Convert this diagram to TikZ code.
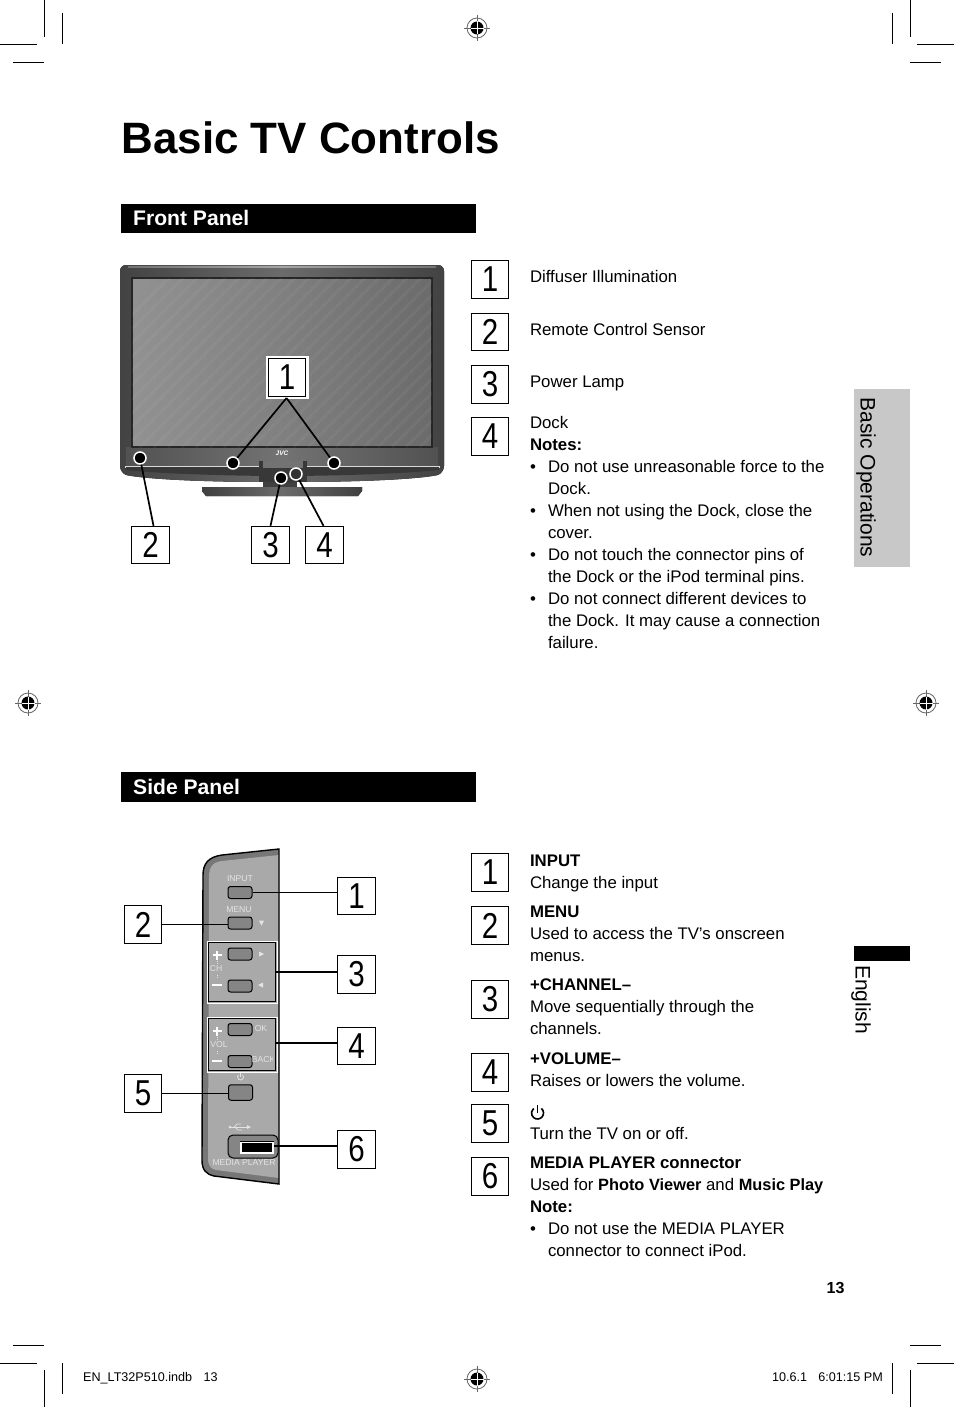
\documentclass[tikz,border=0pt]{standalone}
\usepackage{fontspec}
\setmainfont{Liberation Sans}
\newfontfamily\digitfont[FakeStretch=0.82]{Liberation Sans}
\usetikzlibrary{calc}
\definecolor{panelgray}{HTML}{A9A9A9}
\definecolor{panelrim}{HTML}{77777A}
\definecolor{btn}{HTML}{858585}
\definecolor{tabgray}{HTML}{C8C8C8}
\definecolor{labelw}{HTML}{E4E4E4}
\newcommand{\bnarrow}[1]{{\bfseries\fontsize{16.35}{22}\selectfont #1}}
\tikzset{
  numbox/.style={draw=black,line width=0.9pt,fill=white,minimum width=37.5pt,minimum height=37.5pt,inner sep=0pt,font=\digitfont\fontsize{36}{36}\selectfont},
  bodytext/.style={anchor=north west,inner sep=0pt,outer sep=0pt,align=left,yshift=9.4pt,font=\fontsize{16.8}{22}\selectfont},
  hdr/.style={anchor=west,inner sep=0pt,text=white,font=\bfseries\fontsize{21.1}{22}\selectfont},
  leader/.style={draw=black,line width=1.7pt},
  dotmark/.style={circle,draw=white,line width=1.5pt,fill=black,minimum size=12pt,inner sep=0pt},
  crop/.style={draw=black,line width=0.9pt},
  tiny/.style={inner sep=0pt,text=labelw,font=\fontsize{8.6}{9}\selectfont},
  sidebtn/.style={draw=black,line width=1pt,fill=btn,rounded corners=2.5pt,minimum width=24pt,minimum height=12pt,inner sep=0pt},
  regmark/.pic={
    \draw[gray!80!black,line width=0.8pt] (0,0) circle (10);
    \draw[gray!80!black,line width=0.8pt] (-13,0)--(13,0) (0,-13)--(0,13);
    \fill[black] (0,0) circle (6.5);
    \draw[white,line width=0.8pt] (-6.5,0)--(6.5,0) (0,-6.5)--(0,6.5);
  },
}
\newcommand{\powersym}[4]{% x y radius colour
  \draw[#4,line width=#3*0.27pt] (#1,#2)++(-50:#3) arc[start angle=-50,end angle=230,radius=#3];
}
\begin{document}
\begin{tikzpicture}[x=1pt,y=-1pt]
\useasboundingbox (0,0) rectangle (954,1407);
\fill[white] (0,0) rectangle (954,1407);
% crop marks
\draw[crop] (44,0)--(44,37) (62,13)--(62,44) (0,44)--(37,44) (13,62)--(44,62);
\draw[crop] (910,0)--(910,37) (892,13)--(892,44) (917,44)--(954,44) (910,62)--(941,62);
\draw[crop] (62,1363)--(62,1394) (44,1370)--(44,1407) (13,1345)--(44,1345) (0,1363)--(37,1363);
\draw[crop] (892,1363)--(892,1394) (910,1370)--(910,1407) (910,1345)--(941,1345) (917,1363)--(954,1363);
\pic at (477,28) {regmark};
\pic at (28,703) {regmark};
\pic at (926,703) {regmark};
\pic at (477,1379) {regmark};
% title and headers
\node[anchor=base west,inner sep=0pt,font=\bfseries\fontsize{43.9}{46}\selectfont] (title) at (121.5,153.5) {Basic TV Controls};
\fill[black] (121,204) rectangle (476,233);
\node[hdr] (front) at (133,218) {Front Panel};
\fill[black] (121,772) rectangle (476,802);
\node[hdr] (side) at (133,786.5) {Side Panel};
% side tabs
\fill[tabgray] (854,389) rectangle (910,567);
\node[rotate=-90,anchor=center,inner sep=0pt,font=\fontsize{21}{21}\selectfont] (tabops) at (866,477.5) {Basic Operations};
\fill[black] (854,946) rectangle (910,961);
\node[rotate=-90,anchor=center,inner sep=0pt,font=\fontsize{21}{21}\selectfont] (tabeng) at (861,999.5) {English};
\node[inner sep=0pt,font=\bfseries\fontsize{16}{16}\selectfont] (pageno) at (835.5,1288) {13};
\node[anchor=base west,inner sep=0pt,font=\fontsize{12.6}{13}\selectfont] (footl) at (83,1381) {EN\_LT32P510.indb\hspace{0.9em}13};
\node[anchor=base east,inner sep=0pt,font=\fontsize{12.6}{13}\selectfont] (footr) at (883,1381) {10.6.1\hspace{0.9em}6:01:15 PM};
% ---------- TV ----------
% stand behind the body
\fill[black!75] (263,478) rectangle (297,488);
\fill[left color=black!75,right color=black!75,middle color=black!58] (202,487) -- (362,487) -- (362,491) -- (358,496) -- (206,496) -- (202,491) -- cycle;
% body
\fill[left color=black!74,right color=black!74,middle color=black!58,rounded corners=6pt] (120,265) -- (444,265) -- (444,472) .. controls (436,476) and (400,482) .. (282,482) .. controls (164,482) and (128,476) .. (120,472) -- cycle;
\fill[left color=black!55,right color=black!55,middle color=black!35] (128,266) rectangle (436,267.5);
% chin
\fill[left color=black!68,right color=black!68,middle color=black!55] (126,447) rectangle (438,465);
% screen
\draw[black!85,line width=1.1pt,left color=black!43,right color=black!58,middle color=black!50] (132,278) rectangle (432,447);
\begin{scope}
\clip (132,278) rectangle (432,447);
\foreach \k in {0,14,...,480} {
  \draw[white,opacity=0.07,line width=3pt,dash pattern=on 1pt off 1pt] (\k,447) -- ++(170,-170);
}
\end{scope}
% lower trim
\fill[black!78] (125,466) -- (439,466) -- (439,470) .. controls (400,474) and (330,476) .. (282,476) .. controls (234,476) and (164,474) .. (125,470) -- cycle;
\draw[white!85!black,line width=0.8pt] (125,468) -- (125,466) -- (259,466);
\draw[white!85!black,line width=0.8pt] (439,468) -- (439,466) -- (307,466);
\fill[black!78] (259,461) rectangle (307,482);
\fill[black!55] (263,461) rectangle (303,468);
\node[inner sep=0pt,text=white,font=\bfseries\itshape\fontsize{6.5}{7}\selectfont] (jvc) at (282,453) {JVC};
% front panel markers
\node[dotmark] (dA) at (233,463) {};
\node[dotmark] (dB) at (334,463) {};
\node[dotmark] (dC) at (140,458) {};
\node[dotmark] (dD) at (281,478) {};
\node[dotmark,fill=black!80] (dE) at (296,474) {};
\node[numbox,draw=white,line width=2pt,minimum width=41pt,minimum height=41pt,outer sep=0pt] (fw) at (287,377.5) {};
\node[numbox] (f1) at (287,377.5) {1};
\node[numbox] (f2) at (150.5,545) {2};
\node[numbox] (f3) at (270.5,545) {3};
\node[numbox] (f4) at (324.5,545) {4};
\coordinate (apex) at (286.5,398);
\draw[leader] (apex) -- (dA);
\draw[leader] (apex) -- (dB);
\draw[leader] ($(f2.north)+(3,0)$) -- (dC);
\draw[leader] (f3.north) -- (dD);
\draw[leader] ($(f4.north)+(-1,0)$) -- (dE);
% front panel legend
\node[numbox] (r1) at (490,279.5) {1};
\node[numbox] (r2) at (490,332) {2};
\node[numbox] (r3) at (490,384.5) {3};
\node[numbox] (r4) at (490,436.5) {4};
\node[bodytext] (t1) at (530,276.3) {\strut Diffuser Illumination};
\node[bodytext] (t2) at (530,329.3) {\strut Remote Control Sensor};
\node[bodytext] (t3) at (530,381) {\strut Power Lamp};
\node[bodytext] (t4) at (530,422) {\strut Dock\\\textbf{Notes:}};
\node[bodytext] (b1) at (530,466) {\strut •};
\node[bodytext] (n1) at (548,466) {\strut Do not use unreasonable force to the\\Dock.};
\node[bodytext] (b2) at (530,510) {\strut •};
\node[bodytext] (n2) at (548,510) {\strut When not using the Dock, close the\\cover.};
\node[bodytext] (b3) at (530,554) {\strut •};
\node[bodytext] (n3) at (548,554) {\strut Do not touch the connector pins of\\the Dock or the iPod terminal pins.};
\node[bodytext] (b4) at (530,598) {\strut •};
\node[bodytext] (n4) at (548,598) {\strut Do not connect different devices to\\the Dock. It may cause a connection\\failure.};
% ---------- side panel ----------
\fill[panelrim] (279,849) -- (222,855) .. controls (208,857) and (203,864) .. (203,875) -- (202,1160) .. controls (202,1170) and (206,1174) .. (214,1176) -- (279,1184) -- cycle;
\fill[panelgray] (279,855) -- (222,861) .. controls (212,862) and (209,868) .. (209,877) -- (208,1158) .. controls (208,1166) and (211,1169) .. (216,1170) -- (279,1178) -- cycle;
\draw[black,line width=1.4pt] (279,849) -- (222,855) .. controls (208,857) and (203,864) .. (203,875) -- (202,1160) .. controls (202,1170) and (206,1174) .. (214,1176) -- (279,1184) -- cycle;
% groups
\node[draw=white,line width=1pt,minimum width=70pt,minimum height=62pt,inner sep=0pt] (g3o) at (242,972) {};
\node[draw=black,line width=1.4pt,minimum width=67.5pt,minimum height=59.5pt,inner sep=0pt] (g3) at (242,972) {};
\node[draw=white,line width=1pt,minimum width=70pt,minimum height=55pt,inner sep=0pt] (g4o) at (242,1044.5) {};
\node[draw=black,line width=1.4pt,minimum width=67.5pt,minimum height=52.5pt,inner sep=0pt] (g4) at (242,1044.5) {};
% buttons
\node[sidebtn] (bI) at (240,892.5) {};
\node[sidebtn] (bM) at (240,923) {};
\node[sidebtn] (bCp) at (240,954) {};
\node[sidebtn] (bCm) at (240,986) {};
\node[sidebtn] (bOK) at (240,1029.5) {};
\node[sidebtn] (bBK) at (240,1061.5) {};
\node[sidebtn,minimum height=15.5pt] (bP) at (240.5,1092.5) {};
\node[draw=black,line width=1pt,fill=btn,rounded corners=5pt,minimum width=50pt,minimum height=23pt,inner sep=0pt] (bU) at (253,1146.5) {};
\node[draw=white,line width=1.2pt,fill=black,minimum width=32pt,minimum height=11pt,inner sep=0pt] (usb) at (257,1147.5) {};
\draw[black,line width=1.4pt] (usb.north west) -- (usb.north east);
% button labels
\node[tiny] (lI) at (240,879) {INPUT};
\node[tiny] (lM) at (239,910) {MENU};
\node[tiny] (lDn) at (261.5,923) {\tikz[x=1pt,y=1pt]\fill[labelw] (0,5)--(5,5)--(2.5,0)--cycle;};
\node[tiny] (lR) at (261.5,954) {\tikz[x=1pt,y=1pt]\fill[labelw] (0,0)--(0,5)--(5,2.5)--cycle;};
\node[tiny] (lL) at (260.5,985) {\tikz[x=1pt,y=1pt]\fill[labelw] (5,0)--(5,5)--(0,2.5)--cycle;};
\node[tiny] (lOK) at (261,1029) {OK};
\begin{scope}
\clip (250,1052) rectangle (272,1068);
\node[tiny] (lBK) at (263.5,1060) {BACK};
\end{scope}
\node[tiny] (lCH) at (216,969) {CH};
\node[tiny] (lVOL) at (219,1045) {VOL};
\node[tiny] (lMP) at (244,1163) {MEDIA PLAYER};
\foreach \yy in {955,1031} {
  \draw[white,line width=1.5pt] (212.5,\yy)--(221.5,\yy) (217,\yy-4.5)--(217,\yy+4.5);
}
\foreach \yy in {985,1061} {
  \draw[white,line width=1.2pt] (212,\yy)--(221.5,\yy);
}
\draw[labelw,line width=0.7pt,dash pattern=on 1pt off 1.2pt] (217,961)--(217,964) (217,975)--(217,979) (217,1037)--(217,1040) (217,1051)--(217,1055);
\powersym{240.5}{1077}{3}{labelw}
\draw[labelw,line width=0.8pt] (240.5,1073)--(240.5,1077);
% usb symbol
\draw[labelw,line width=0.8pt] (230,1127)--(247,1127);
\fill[labelw] (230,1127) circle (1.5);
\fill[labelw] (247,1125)--(251,1127)--(247,1129)--cycle;
\draw[labelw,line width=0.7pt] (234,1127)--(237,1124)--(241,1124) (235,1127)--(238,1130)--(242,1130);
% side callouts
\node[numbox] (s1) at (356.5,896) {1};
\node[numbox] (s2) at (143,924.5) {2};
\node[numbox] (s3) at (356.5,974.5) {3};
\node[numbox] (s4) at (356.5,1046) {4};
\node[numbox] (s5) at (143,1093.5) {5};
\node[numbox] (s6) at (356.5,1149.5) {6};
\draw[leader] (bI.east) -- (bI.east -| s1.west);
\draw[leader] (s2.east) -- (s2.east -| bM.west);
\draw[leader] (g3.east |- 0,972) -- (s3.west |- 0,972);
\draw[leader] (g4.east |- 0,1043) -- (s4.west |- 0,1043);
\draw[leader] (s5.east) -- (s5.east -| bP.west);
\draw[leader] (usb.east |- 0,1146) -- (s6.west |- 0,1146);
% side legend
\node[numbox] (q1) at (490,872.5) {1};
\node[numbox] (q2) at (490,925.5) {2};
\node[numbox] (q3) at (490,999.5) {3};
\node[numbox] (q4) at (490,1072.5) {4};
\node[numbox] (q5) at (490,1123.5) {5};
\node[numbox] (q6) at (490,1176.5) {6};
\node[bodytext] (u1) at (530,860) {\strut\textbf{INPUT}\\Change the input};
\node[bodytext] (u2) at (530,911) {\strut\textbf{MENU}\\Used to access the TV’s onscreen\\menus.};
\node[bodytext] (u3) at (530,984) {\strut\textbf{+CHANNEL–}\\Move sequentially through the\\channels.};
\node[bodytext] (u4) at (530,1058) {\strut\textbf{+VOLUME–}\\Raises or lowers the volume.};
\powersym{537.5}{1113}{6}{black}
\draw[black,line width=1.6pt] (537.5,1105)--(537.5,1113);
\node[bodytext] (u5) at (530,1133) {\strut Turn the TV on or off.};
\node[bodytext] (u6) at (530,1162) {\strut\textbf{MEDIA PLAYER connector}\\Used for \bnarrow{Photo Viewer} and \bnarrow{Music Play}\\\textbf{Note:}};
\node[bodytext] (b5) at (530,1228) {\strut •};
\node[bodytext] (n5) at (548,1228) {\strut Do not use the MEDIA PLAYER\\connector to connect iPod.};
\end{tikzpicture}
\end{document}
